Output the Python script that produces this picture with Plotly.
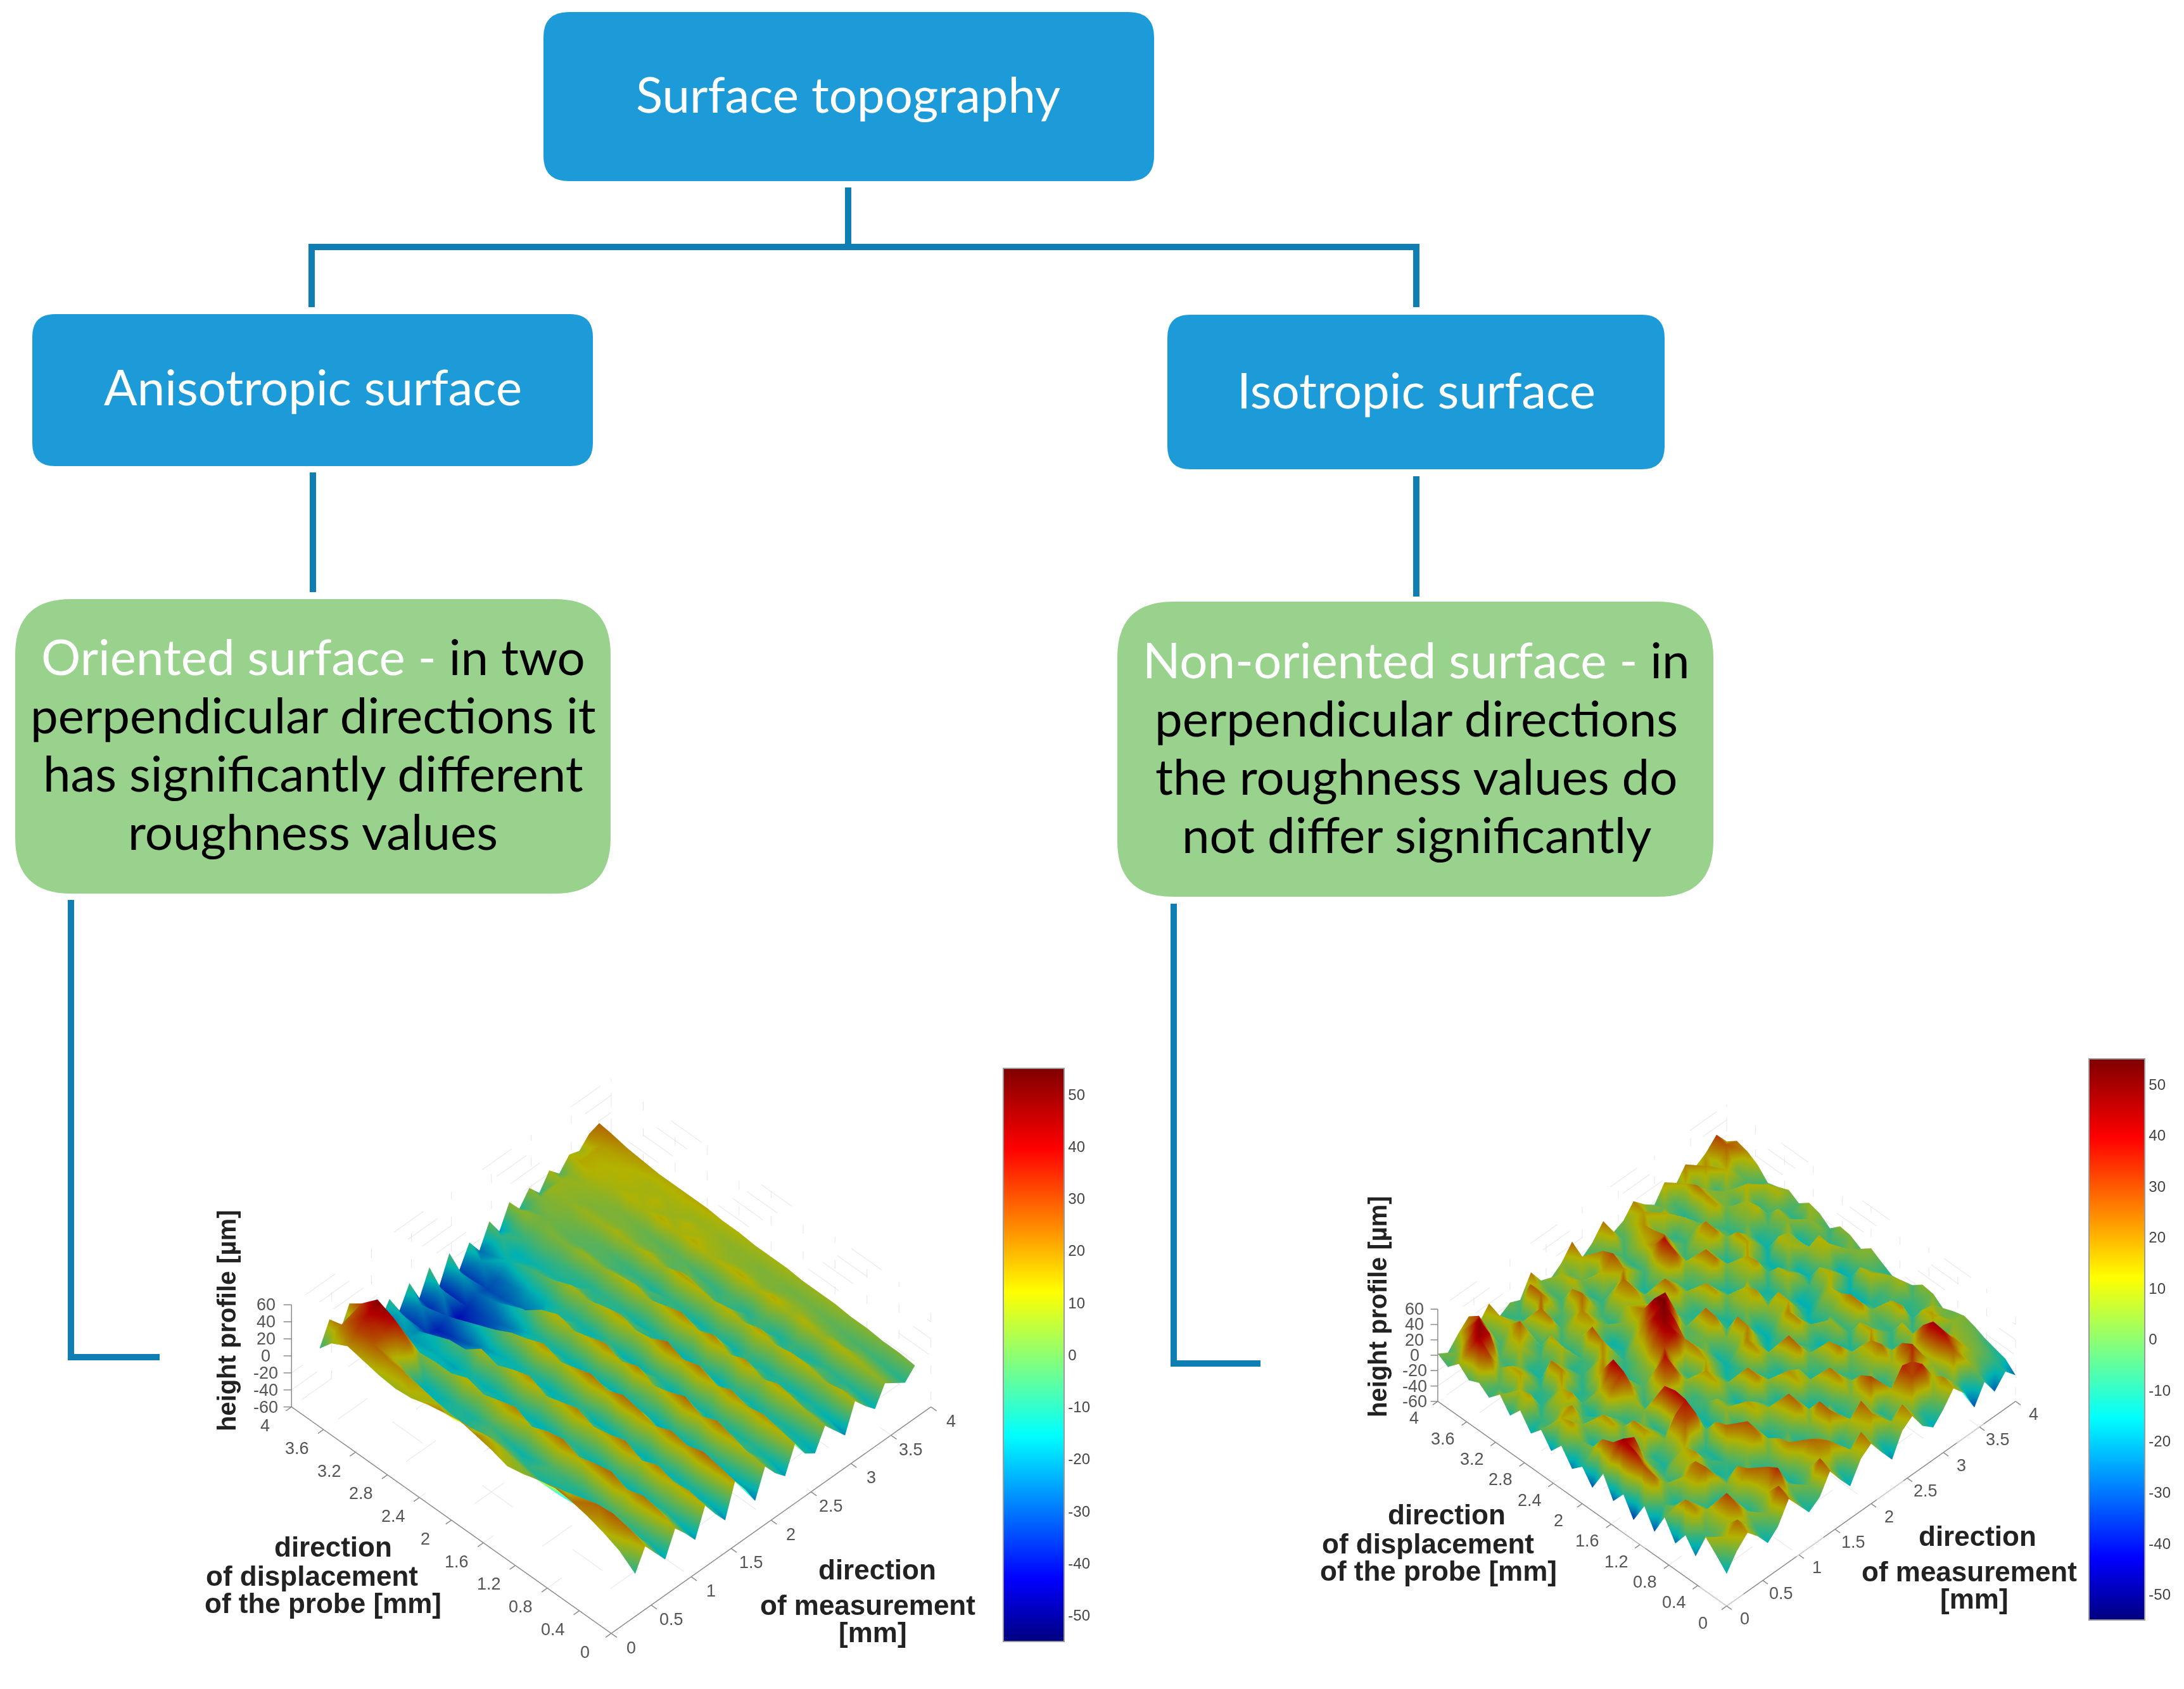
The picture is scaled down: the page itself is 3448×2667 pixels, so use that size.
import plotly.graph_objects as go

W = 3448
H = 2667

z_ticks = [-60, -40, -20, 0, 20, 40, 60]
meas_ticks = [0, 0.5, 1, 1.5, 2, 2.5, 3, 3.5, 4]
disp_ticks = [0, 0.4, 0.8, 1.2, 1.6, 2, 2.4, 2.8, 3.2, 3.6, 4]
cbar_ticks = [-50, -40, -30, -20, -10, 0, 10, 20, 30, 40, 50]

# matlab style jet, plotly's own Jet has its stops in other places
jet = [[0, "#000080"], [0.11, "#0000ff"], [0.36, "#00ffff"], [0.61, "#ffff00"], [0.86, "#ff0000"], [1, "#800000"]]

# anisotropic surface, rows go along y, columns along x. it sits a bit inside the axes in the picture
aniso_x = [0.3, 0.425, 0.55, 0.675, 0.8, 0.925, 1.05, 1.175, 1.3, 1.425, 1.55, 1.675, 1.8, 1.925, 2.05,
           2.175, 2.3, 2.425, 2.55, 2.675, 2.8, 2.925, 3.05, 3.175, 3.3, 3.425, 3.55, 3.675, 3.8]
aniso_y = [0, 0.2, 0.4, 0.6, 0.8, 1, 1.2, 1.4, 1.6, 1.8, 2, 2.2, 2.4, 2.6, 2.8, 3, 3.2, 3.4, 3.6, 3.8, 3.95]
aniso_z = [
    [-10, 14, -2, -18, 10, -4, -20, 12, -6, -22, 16, -2, -24, 8, -8, -20, 10, -10, -18, 6, -8, -22, 10, -4, -16, 6, -2, -10, 2],
    [4, 22, 2, -12, 18, 0, -14, 16, -4, -16, 20, 0, -18, 10, -4, -14, 14, -8, -14, 8, -6, -16, 12, -2, -12, 8, 0, -8, 4],
    [12, 26, -2, -8, 22, -2, -10, 14, -8, -12, 24, 2, -14, 16, -6, -10, 18, -4, -12, 12, -6, -12, 8, -6, -10, 10, 2, -6, 4],
    [18, 24, -6, -4, 16, -8, -12, 20, -4, -14, 18, -2, -12, 22, -2, -12, 14, -8, -10, 16, -2, -14, 12, -2, -8, 12, 0, -4, 6],
    [22, 18, -10, -8, 24, -2, -14, 12, -10, -10, 22, 0, -16, 14, -8, -8, 20, 0, -14, 8, -8, -10, 14, -4, -12, 8, 2, -2, 6],
    [24, 12, -12, -12, 20, -6, -10, 22, -2, -16, 14, -8, -10, 24, 2, -14, 12, -6, -8, 18, -2, -12, 10, -8, -6, 12, 4, 0, 8],
    [20, 6, -14, -8, 14, -10, -16, 16, -6, -8, 20, 2, -18, 16, -4, -10, 22, -2, -16, 10, -8, -6, 16, 0, -12, 8, 6, 2, 8],
    [14, 2, -12, -4, 22, -4, -12, 12, -12, -14, 24, -2, -12, 10, -8, -16, 16, -6, -8, 20, 2, -14, 10, -6, -4, 14, 6, 2, 8],
    [10, 6, -8, -10, 18, -8, -8, 20, -4, -16, 16, -6, -14, 20, 0, -10, 24, -2, -16, 12, -6, -8, 14, 0, -10, 10, 4, 4, 10],
    [16, 10, -4, -14, 10, -12, -14, 14, -8, -8, 22, 2, -18, 12, -6, -14, 14, -8, -10, 20, -2, -14, 10, -6, -4, 14, 6, 4, 10],
    [20, 12, -2, -10, 20, -4, -16, 8, -12, -12, 16, -2, -12, 20, -2, -16, 10, -8, -12, 14, -4, -10, 14, -2, -8, 12, 6, 6, 10],
    [24, 8, -6, -6, 14, -10, -10, 18, -4, -16, 10, -8, -16, 14, -4, -8, 16, -2, -14, 8, -8, -8, 16, 2, -6, 10, 8, 6, 12],
    [20, 4, -10, -12, 8, -14, -14, 12, -8, -10, 18, -2, -14, 8, -10, -14, 12, -6, -10, 14, -2, -12, 8, -2, -2, 14, 10, 8, 12],
    [16, 10, -12, -10, 14, -8, -16, 4, -14, -14, 10, -8, -10, 14, -4, -12, 6, -8, -8, 10, -2, -8, 12, 2, -2, 10, 12, 8, 14],
    [10, 14, -14, -14, 6, -16, -12, 10, -12, -16, 4, -12, -14, 6, -10, -10, 10, -4, -10, 6, -4, -6, 8, 2, 0, 14, 8, 10, 14],
    [8, 18, -10, -16, 6, -14, -18, -4, -18, -20, -6, -22, -22, -8, -24, -16, 2, -12, -8, 8, -2, -2, 10, 4, 2, 10, 12, 10, 14],
    [10, 20, 8, 24, 4, -14, -16, -6, -24, -28, -14, -30, -28, -16, -26, -18, -4, -12, -6, 4, -2, 0, 8, 4, 4, 12, 10, 10, 14],
    [14, 26, 30, 40, 8, -14, -18, -14, -30, -34, -22, -36, -32, -24, -30, -24, -8, -14, -4, 4, 0, 2, 8, 4, 6, 10, 12, 12, 16],
    [18, 30, 38, 48, 26, -10, -20, -22, -34, -38, -30, -42, -36, -28, -32, -28, -14, -16, -6, 2, 2, 4, 6, 6, 8, 12, 12, 14, 18],
    [8, 22, 26, 30, 12, -18, -24, -16, -34, -22, -36, -20, -38, -18, -34, -20, -22, -8, -10, 6, -2, 4, 8, 8, 6, 14, 14, 16, 22],
    [-8, 18, -6, 20, -12, 4, -28, -8, -30, -6, -32, -4, -34, -4, -32, -8, -26, 0, -20, 6, -10, 6, -8, 10, -2, 12, 8, 20, 24],
]

# isotropic surface, fills the axes
iso_x = [0, 0.14, 0.29, 0.43, 0.57, 0.71, 0.86, 1, 1.14, 1.29, 1.43, 1.57, 1.71, 1.86, 2,
         2.14, 2.29, 2.43, 2.57, 2.71, 2.86, 3, 3.14, 3.29, 3.43, 3.57, 3.71, 3.86, 4]
iso_y = iso_x
iso_z = [
    [-18, 2, 16, 2, -16, -4, 22, 4, -14, -4, 20, 0, -18, 8, 18, -2, -22, 6, 16, -6, -18, -4, 14, -2, -30, -6, -28, -12, -26],
    [-4, 12, 24, 6, -8, 4, 30, 8, -8, 2, 28, 6, -10, 10, 24, 2, -12, 8, 22, 2, -10, 2, 20, 2, -14, 4, -6, -8, -14],
    [10, -2, 8, 24, 6, -6, 12, 34, 4, -10, 4, 18, 22, 2, -8, 8, 20, 2, -8, 10, 28, 36, 12, -2, 26, 10, 4, -2, -10],
    [-24, -6, 10, 30, 8, -10, 14, 26, 2, -12, 6, 24, 16, -4, -10, 12, 26, 4, -10, 14, 34, 30, 8, 6, 40, 22, 6, 2, -6],
    [-6, 18, 8, -4, -14, 6, 24, 4, -14, -4, 20, 6, -12, -4, 24, 8, -8, 4, 30, 10, -6, 10, 34, 10, 44, 18, 8, 4, 0],
    [-26, 22, 6, -8, -16, 4, 18, -2, -16, -2, 16, 2, -14, 2, 26, 6, -12, 2, 22, 4, -12, 8, 26, 8, 30, 12, -2, 6, 4],
    [-2, 4, -8, 12, 26, 6, -10, -14, 4, 22, 6, -10, -2, 22, 6, -12, -6, 18, 4, -10, 4, 24, 6, -8, 8, -6, 16, 2, 0],
    [-30, -4, -12, 14, 24, 4, -12, -6, 10, 28, 4, -14, 2, 26, 4, -14, -4, 22, 2, -8, 6, 20, 2, -10, 14, -8, 12, 8, -6],
    [-6, 24, 4, -10, 8, 18, -4, -12, 24, 6, -12, 12, 8, -4, -14, 14, 6, -12, -6, 22, 4, -14, 16, 2, -8, 18, -10, -4, 4],
    [-34, 28, 8, -6, 6, 14, -6, -10, 18, 2, -14, 16, 6, -8, -12, 18, 10, -10, -4, 18, 2, -12, 14, -2, -6, 14, -12, -6, 6],
    [-10, 40, 14, -4, -12, 6, 26, 30, -2, -14, 8, -2, -10, 20, 6, -8, -12, 22, 2, -10, -14, 6, -8, 20, 2, -10, -4, 10, -4],
    [-28, 44, 36, 2, -10, 4, 28, 38, -4, -14, 10, -4, -14, 22, 4, -10, -10, 26, 4, -8, -14, 8, -6, 22, -2, -10, -6, 8, -8],
    [-2, 30, 10, -6, 18, 6, -8, 40, 10, -10, -4, 14, 2, -10, -6, 16, 4, -12, -6, 18, 2, -14, -4, 14, -6, -16, 12, 2, -10],
    [-30, 24, 8, -8, 20, 4, -10, 36, 8, -8, -6, 18, 4, -12, -8, 20, 6, -14, -4, 20, 0, -14, -2, 12, -8, -16, 10, -4, -2],
    [-12, 4, -10, 16, 2, -10, 4, -6, 16, 28, 6, -8, 14, -2, -14, 2, 20, -4, -16, 4, 14, -6, -16, -4, 14, 2, -14, 2, 6],
    [-24, 2, -14, 18, 4, -8, 12, -8, 12, 38, 10, -6, 20, 4, -12, 2, 22, -2, -14, 6, 16, -4, -16, -6, 10, -2, -16, 4, -4],
    [-4, 18, 4, -12, -4, 22, 36, 6, -4, 8, 30, 40, 22, -4, 2, 22, -6, -16, 6, 18, -8, -10, 12, 2, -14, 6, 12, -6, 4],
    [-20, 14, 20, -4, -14, 16, 42, 10, -8, 4, 26, 46, 38, -2, 0, 24, -4, -12, 8, 14, -10, -12, 10, -4, -14, 8, 14, -8, 6],
    [-2, -4, 8, 18, -6, -4, 20, 4, -10, -2, 14, 40, 50, 24, -2, -6, -10, 16, 2, -14, 4, 18, -6, -16, 10, 6, -12, 4, -6],
    [-16, -8, 6, 14, -8, -10, 6, 18, 2, -8, 8, 22, 46, 44, 6, -8, -8, 18, 0, -12, 6, 16, -4, -14, 12, 8, -14, 6, 4],
    [4, 16, -10, -6, 20, 4, -8, -4, 20, -6, -12, 6, 22, 16, -6, 20, 6, -10, -2, 22, 4, -10, 16, 2, -14, -6, 6, -10, 8],
    [-12, 12, -12, -8, 22, 6, -10, -6, 28, -8, -14, 4, 16, 10, -8, 24, 8, -8, 0, 24, 4, -12, 18, 4, -12, -4, 10, -8, -2],
    [6, -6, 16, 2, -12, -4, 12, -10, 6, 16, 2, -10, 8, 20, 2, -10, 4, 30, 8, -8, 6, 20, 2, -10, 2, 14, -6, 10, 6],
    [-8, -4, 14, 4, -10, -6, 16, -8, 8, 20, 4, -6, 10, 24, 0, -12, 6, 38, 12, -6, 8, 22, 2, -8, 4, 10, -8, 12, 0],
    [2, 30, 2, -8, 12, 2, -8, 20, -4, 4, 24, 2, -8, -2, 18, 6, -6, 20, 24, 2, -6, 4, -2, 16, 2, -6, 14, 2, -4],
    [-4, 44, 38, -4, 10, 26, -6, 24, -8, -4, 20, 4, -10, 14, 28, 4, -8, 12, 20, -2, -8, 8, -8, 18, 4, 4, -4, -4, 10],
    [8, 28, 46, 18, -6, 12, 4, -8, 24, 6, -6, 14, 2, -2, 22, 8, -6, 6, 18, 4, 14, -2, -10, 22, 6, -8, 14, 2, 18],
    [-6, 4, 26, 32, -4, 14, -4, -8, 26, 8, -4, 10, 0, 14, 6, -4, 16, -4, 10, 16, -2, 2, -4, 14, 2, 18, 8, 26, 22],
    [2, -6, 10, 22, 4, 20, -6, 2, -4, 22, 2, -4, 6, 24, -6, 4, 22, -2, 4, 20, 6, -4, 16, 2, 20, 8, 16, 30, 12],
]

# boxes: left, top, right, bottom, corner radius, fill
boxes = [
    (858, 19, 1822, 286, 40, "#1d9bd9"),
    (51, 496, 936, 736, 36, "#1d9bd9"),
    (1843, 497, 2628, 741, 36, "#1d9bd9"),
    (24, 946, 964, 1411, 88, "#98d28c"),
    (1764, 950, 2705, 1416, 88, "#98d28c"),
]
connectors = [
    [(1339, 296), (1339, 390)],
    [(492, 485), (492, 390), (2236, 390), (2236, 485)],
    [(494, 746), (494, 935)],
    [(2236, 752), (2236, 942)],
    [(112, 1421), (112, 2143), (252, 2143)],
    [(1853, 1427), (1853, 2153), (1990, 2153)],
]

white = '<span style="color:white">%s</span>'
box_texts = [
    (1339, 148, white % "Surface topography"),
    (494, 610, white % "Anisotropic surface"),
    (2236, 615, white % "Isotropic surface"),
    (494, 1036, white % "Oriented surface - " + "in two"),
    (494, 1128, "perpendicular directions it"),
    (494, 1220, "has significantly different"),
    (494, 1312, "roughness values"),
    (2236, 1041, white % "Non-oriented surface - " + "in"),
    (2236, 1133, "perpendicular directions"),
    (2236, 1225, "the roughness values do"),
    (2236, 1317, "not differ significantly"),
]
# single lines of the axis captions
axis_lines = [
    (358, 2085, "height profile [µm]", -90),
    (526, 2442, "direction", 0),
    (492, 2488, "of displacement", 0),
    (510, 2531, "of the probe [mm]", 0),
    (1385, 2478, "direction", 0),
    (1370, 2534, "of measurement", 0),
    (1378, 2577, "[mm]", 0),
    (2175, 2063, "height profile [µm]", -90),
    (2284, 2391, "direction", 0),
    (2254, 2437, "of displacement", 0),
    (2271, 2480, "of the probe [mm]", 0),
    (3122, 2425, "direction", 0),
    (3109, 2481, "of measurement", 0),
    (3117, 2524, "[mm]", 0),
]


def rounded(l, t, r, b, c):
    return (f"M {l+c} {t} L {r-c} {t} Q {r} {t} {r} {t+c} L {r} {b-c} Q {r} {b} {r-c} {b} "
            f"L {l+c} {b} Q {l} {b} {l} {b-c} L {l} {t+c} Q {l} {t} {l+c} {t} Z")


def segments(pairs):
    # (start, end) points to x, y, z lists with gaps
    xs, ys, zs = [], [], []
    for a, b in pairs:
        xs += [a[0], b[0], None]
        ys += [a[1], b[1], None]
        zs += [a[2], b[2], None]
    return xs, ys, zs


def add_frame(scene):
    # scene axes are hidden and wider than the data, so the labels stay in range. frame drawn by hand
    grid = []
    for t in meas_ticks:
        grid += [((t, 0, -60), (t, 4, -60)), ((t, 4, -60), (t, 4, 60))]
    for t in disp_ticks:
        grid += [((0, t, -60), (4, t, -60)), ((4, t, -60), (4, t, 60))]
    for t in z_ticks:
        grid += [((0, 4, t), (4, 4, t)), ((4, 0, t), (4, 4, t))]
    xs, ys, zs = segments(grid)
    fig.add_trace(go.Scatter3d(x=xs, y=ys, z=zs, mode="lines", scene=scene, hoverinfo="skip", showlegend=False,
                               line=dict(color="#e6e6e6", width=2, dash="dot")))
    axes = [((0, 0, -60), (4, 0, -60)), ((0, 0, -60), (0, 4, -60)), ((0, 4, -60), (0, 4, 60))]
    axes += [((t, 0, -60), (t, -0.07, -60)) for t in meas_ticks]
    axes += [((0, t, -60), (-0.07, t, -60)) for t in disp_ticks]
    axes += [((0, 4, t), (-0.05, 4.05, t)) for t in z_ticks]
    xs, ys, zs = segments(axes)
    fig.add_trace(go.Scatter3d(x=xs, y=ys, z=zs, mode="lines", scene=scene, hoverinfo="skip", showlegend=False,
                               line=dict(color="#8a8a8a", width=3)))


def add_relief(xvals, yvals, rows, scene, cbar):
    # mesh instead of go.Surface, the diagonals alternate so the peaks come out pointed
    nx = len(xvals)
    xs = [x for _ in yvals for x in xvals]
    ys = [y for y in yvals for _ in xvals]
    zs = [v for row in rows for v in row]
    ii, jj, kk = [], [], []
    for r in range(len(yvals) - 1):
        for c in range(nx - 1):
            a, b = r * nx + c, r * nx + c + 1
            d, e = a + nx, b + nx
            if (r + c) % 2:
                ii += [a, b]
                jj += [b, e]
                kk += [d, d]
            else:
                ii += [a, a]
                jj += [b, e]
                kk += [e, d]
    fig.add_trace(go.Mesh3d(x=xs, y=ys, z=zs, i=ii, j=jj, k=kk, intensity=zs, scene=scene, colorscale=jet,
                            cmin=-55, cmax=55, lighting=light, lightposition=sun, hoverinfo="skip", colorbar=cbar))


def scene_axis(lo, hi):
    return dict(range=[lo, hi], visible=False)


def tick_label(x, y, z, text):
    return dict(x=x, y=y, z=z, text=text, showarrow=False,
                font=dict(family="Liberation Sans", size=27, color="#555555"))


def tick_labels():
    out = [tick_label(t, -0.25, -60, str(t)) for t in meas_ticks]
    out += [tick_label(-0.33, t, -60, str(t)) for t in disp_ticks]
    out += [tick_label(-0.16, 4.16, t, str(t)) for t in z_ticks]
    return out


def colorbar(x, y_top, length, thick):
    return dict(
        x=x / W, xanchor="left", xpad=0, y=1 - y_top / H, yanchor="top", ypad=0,
        len=length, lenmode="pixels", thickness=thick, thicknessmode="pixels",
        tickvals=cbar_ticks, ticktext=[str(t) for t in cbar_ticks], ticks="",
        outlinecolor="#9a9a9a", outlinewidth=2,
        tickfont=dict(family="Liberation Sans", size=24, color="#444444"),
    )


light = dict(ambient=0.7, diffuse=0.6, specular=0.3, roughness=0.4, fresnel=0.05)
sun = dict(x=2000, y=2000, z=3000)

fig = go.Figure()
add_relief(aniso_x, aniso_y, aniso_z, "scene", colorbar(1584, 1687, 905, 96))
add_relief(iso_x, iso_y, iso_z, "scene2", colorbar(3298, 1672, 886, 88))
add_frame("scene")
add_frame("scene2")

eye = dict(x=-1, y=-1, z=1.42)
for name, dom, k in [("scene", (300, 1630, 1615, 2667), 1.357), ("scene2", (2076, 3376, 1640, 2640), 1.29)]:
    fig.layout[name] = dict(
        domain=dict(x=[dom[0] / W, dom[1] / W], y=[1 - dom[3] / H, 1 - dom[2] / H]),
        xaxis=scene_axis(-0.6, 4.6), yaxis=scene_axis(-0.6, 4.6), zaxis=scene_axis(-60, 60),
        aspectmode="manual", aspectratio=dict(x=k * 1.3, y=k * 1.3, z=k * 0.32),
        camera=dict(eye=eye, up=dict(x=0, y=0, z=1), center=dict(x=0, y=0, z=0),
                    projection=dict(type="orthographic")),
        annotations=tick_labels(),
    )

for l, t, r, b, c, fill in boxes:
    fig.add_shape(type="path", path=rounded(l, t, r, b, c), xref="x", yref="y", fillcolor=fill, line_width=0)
for pts in connectors:
    path = "M " + " L ".join(f"{x} {y}" for x, y in pts)
    fig.add_shape(type="path", path=path, xref="x", yref="y", line=dict(color="#0f7fb3", width=10))

for x, y, text in box_texts:
    fig.add_annotation(x=x, y=y, text=text, xref="x", yref="y", showarrow=False,
                       font=dict(family="Lato", size=78, color="black"))
for x, y, text, angle in axis_lines:
    fig.add_annotation(x=x, y=y, text="<b>" + text + "</b>", xref="x", yref="y", showarrow=False, textangle=angle,
                       font=dict(family="Liberation Sans", size=40 if angle else 44, color="#222222"))

fig.update_layout(
    width=W, height=H, margin=dict(l=0, r=0, t=0, b=0), paper_bgcolor="white", plot_bgcolor="white",
    showlegend=False,
    xaxis=dict(range=[0, W], visible=False, domain=[0, 1]),
    yaxis=dict(range=[H, 0], visible=False, domain=[0, 1]),
)
fig.write_html("out.html", post_script="document.body.style.margin='0';", config={"displayModeBar": False})
